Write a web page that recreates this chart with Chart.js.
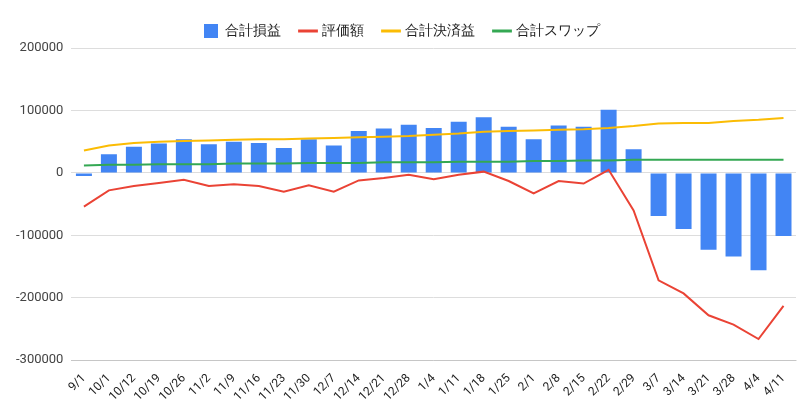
<!DOCTYPE html>
<html><head><meta charset="utf-8">
<script src="https://cdn.jsdelivr.net/npm/chart.js@4"></script>
<style>body{margin:0;background:#fff}#w{width:806px;height:411px}</style>
</head><body><div id="w"><canvas id="c"></canvas></div>
<script>
const categories=["9/1","10/1","10/12","10/19","10/26","11/2","11/9","11/16","11/23","11/30","12/7","12/14","12/21","12/28","1/4","1/11","1/18","1/25","2/1","2/8","2/15","2/22","2/29","3/7","3/14","3/21","3/28","4/4","4/11"];
const totalPL=[-5000,30000,42000,47000,54000,46000,50000,48000,40000,54000,44000,67000,71000,77000,72000,82000,89000,74000,54000,76000,74000,101000,38000,-69000,-90000,-123000,-134000,-156000,-101000];
const valuation=[-54000,-28000,-21000,-16000,-11000,-21000,-18000,-21000,-30000,-20000,-30000,-12000,-8000,-3000,-10000,-3000,2000,-13000,-33000,-13000,-17000,5000,-60000,-172000,-193000,-228000,-243000,-266000,-213000];
const settled=[36000,44000,48000,50000,51000,52000,53000,54000,54000,55000,56000,57000,58000,59000,61000,63000,66000,67000,68000,69000,70000,72000,75000,79000,80000,80000,83000,85000,88000];
const swap=[12000,13000,13000,14000,14000,14000,15000,15000,15000,16000,16000,16000,17000,17000,17000,18000,18000,18000,19000,19000,20000,20000,21000,21000,21000,21000,21000,21000,21000];
const yTicks=[-300000,-200000,-100000,0,100000,200000];
new Chart(document.getElementById('c'),{
data:{labels:categories,datasets:[
{type:'bar',label:'合計損益',data:totalPL,backgroundColor:'#4285F4',order:4,categoryPercentage:0.8,barPercentage:0.8,pointStyle:'rect'},
{type:'line',label:'評価額',data:valuation,borderColor:'#EA4335',backgroundColor:'#EA4335',borderWidth:2,pointRadius:0,order:1,pointStyle:'line'},
{type:'line',label:'合計決済益',data:settled,borderColor:'#FBBC04',backgroundColor:'#FBBC04',borderWidth:2,pointRadius:0,order:2,pointStyle:'line'},
{type:'line',label:'合計スワップ',data:swap,borderColor:'#34A853',backgroundColor:'#34A853',borderWidth:2,pointRadius:0,order:3,pointStyle:'line'}
]},
options:{responsive:true,maintainAspectRatio:false,animation:false,
layout:{padding:{left:8,right:10,top:4,bottom:4}},
plugins:{legend:{position:'top',labels:{usePointStyle:true,boxWidth:14,boxHeight:14,font:{family:'Roboto',size:14},color:'#222',padding:20,
 sort:(a,b)=>a.datasetIndex-b.datasetIndex,
 generateLabels(ch){const l=Chart.defaults.plugins.legend.labels.generateLabels(ch);l.forEach(x=>{x.lineWidth=x.pointStyle==='line'?3:0;});return l;}}},tooltip:{enabled:false}},
scales:{
x:{grid:{display:false},ticks:{maxRotation:45,minRotation:45,autoSkip:false,font:{family:'Roboto',size:12},color:'#222'}},
y:{min:-300000,max:200000,afterBuildTicks(a){a.ticks=yTicks.map(v=>({value:v}));},grid:{color:'#ddd',drawTicks:false},border:{display:false},
 ticks:{padding:8,font:{family:'Roboto',size:13},color:'#444',callback:v=>String(v)}}
}}});
</script></body></html>
